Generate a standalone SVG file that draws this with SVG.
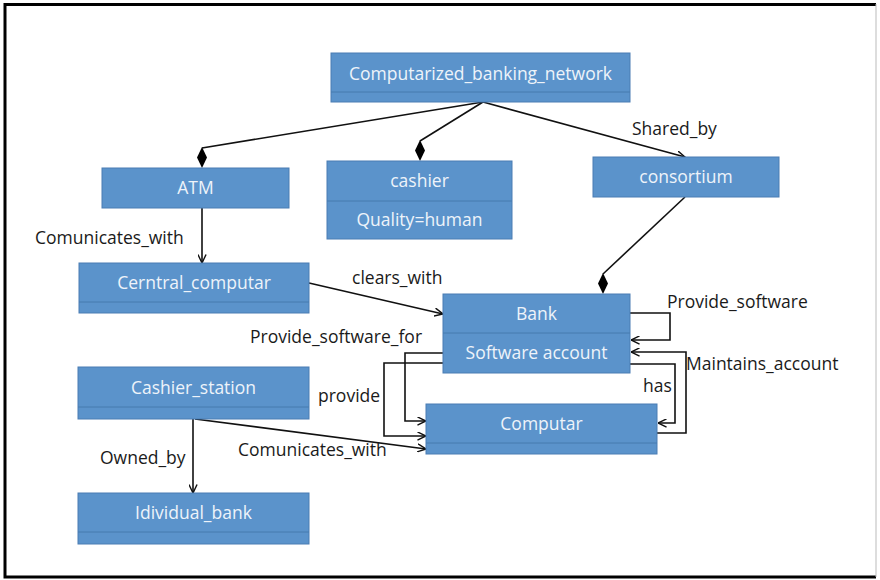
<svg xmlns="http://www.w3.org/2000/svg" width="880" height="580" viewBox="0 0 880 580">
  <style>
    .box { fill: #5b93cb; stroke: #4a7db3; stroke-width: 1; }
    .div { stroke: #477aae; stroke-width: 1; fill: none; }
    .nt { font-family: "Open Sans", "Liberation Sans", sans-serif; font-size: 17.5px; fill: #eef3fa; text-anchor: middle; }
    .lbl { font-family: "Open Sans", "Liberation Sans", sans-serif; font-size: 17.5px; fill: #1a1a1a; }
    .ln { fill: none; stroke: #111; stroke-width: 1.6; }
    .dia { fill: #000; }
  </style>
  <defs>
    <marker id="open" viewBox="0 0 10 10" refX="9.5" refY="5" markerWidth="9" markerHeight="9" markerUnits="userSpaceOnUse" orient="auto">
      <path d="M0,0.5 L9.5,5 L0,9.5" fill="none" stroke="#111" stroke-width="1.6"/>
    </marker>
  </defs>
  <rect width="880" height="580" fill="#fff"/>
  <!-- page frame -->
  <path d="M876,4.5 H5 V577 H876" fill="none" stroke="#000" stroke-width="3"/>
  <line x1="876" y1="4" x2="876" y2="577" stroke="#bbb" stroke-width="1"/>

  <g id="connectors">
    <!-- composition lines to network -->
    <line class="ln" x1="483" y1="102" x2="202" y2="148"/>
    <line class="ln" x1="483" y1="102" x2="420" y2="141"/>
    <line class="ln" x1="483" y1="102" x2="685" y2="157" marker-end="url(#open)"/>
    <line class="ln" x1="685" y1="197" x2="603" y2="274"/>
    <!-- ATM to central -->
    <line class="ln" x1="202" y1="208" x2="202" y2="263" marker-end="url(#open)"/>
    <!-- clears_with -->
    <line class="ln" x1="309" y1="283" x2="443" y2="314" marker-end="url(#open)"/>
    <!-- Provide_software self loop -->
    <polyline class="ln" points="630,313 670,313 670,340 631,340" marker-end="url(#open)"/>
    <!-- Maintains_account -->
    <polyline class="ln" points="657,433 686,433 686,352 631,352" marker-end="url(#open)"/>
    <!-- has -->
    <polyline class="ln" points="630,364 675,364 675,423 658,423" marker-end="url(#open)"/>
    <!-- Provide_software_for / provide -->
    <polyline class="ln" points="443,353 405,353 405,421 426,421" marker-end="url(#open)"/>
    <polyline class="ln" points="443,363 384,363 384,436 426,436" marker-end="url(#open)"/>
    <!-- Cashier_station links -->
    <line class="ln" x1="195" y1="419" x2="426" y2="449" marker-end="url(#open)"/>
    <line class="ln" x1="193" y1="419" x2="193" y2="493" marker-end="url(#open)"/>
    <!-- diamonds -->
    <path class="dia" d="M202,147 L207,157.5 L202,168 L197,157.5 Z"/>
    <path class="dia" d="M420,140 L425,150.5 L420,161 L415,150.5 Z"/>
    <path class="dia" d="M603,273 L608,283.5 L603,294 L598,283.5 Z"/>
    <!-- labels -->
    <text class="lbl" x="632" y="135">Shared_by</text>
    <text class="lbl" x="35" y="244">Comunicates_with</text>
    <text class="lbl" x="352" y="284">clears_with</text>
    <text class="lbl" x="667" y="308">Provide_software</text>
    <text class="lbl" x="250" y="343">Provide_software_for</text>
    <text class="lbl" x="686" y="370">Maintains_account</text>
    <text class="lbl" x="643" y="392">has</text>
    <text class="lbl" x="318" y="402">provide</text>
    <text class="lbl" x="238" y="456">Comunicates_with</text>
    <text class="lbl" x="100" y="464">Owned_by</text>
  </g>

  <g id="network">
    <rect class="box" x="331" y="53" width="299" height="49"/>
    <line class="div" x1="331" y1="92" x2="630" y2="92"/>
    <text class="nt" x="480.5" y="80">Computarized_banking_network</text>
  </g>
  <g id="atm">
    <rect class="box" x="102" y="168" width="187" height="40"/>
    <text class="nt" x="195.5" y="194">ATM</text>
  </g>
  <g id="cashier">
    <rect class="box" x="327" y="161" width="185" height="78"/>
    <line class="div" x1="327" y1="201" x2="512" y2="201"/>
    <text class="nt" x="419.5" y="187">cashier</text>
    <text class="nt" x="419.5" y="226">Quality=human</text>
  </g>
  <g id="consortium">
    <rect class="box" x="593" y="157" width="186" height="40"/>
    <text class="nt" x="686" y="183">consortium</text>
  </g>
  <g id="central">
    <rect class="box" x="79" y="263" width="230" height="50"/>
    <line class="div" x1="79" y1="302" x2="309" y2="302"/>
    <text class="nt" x="194" y="289">Cerntral_computar</text>
  </g>
  <g id="bank">
    <rect class="box" x="443" y="294" width="187" height="79"/>
    <line class="div" x1="443" y1="333" x2="630" y2="333"/>
    <text class="nt" x="536.5" y="320">Bank</text>
    <text class="nt" x="536.5" y="359">Software account</text>
  </g>
  <g id="cashier_station">
    <rect class="box" x="78" y="367" width="231" height="52"/>
    <line class="div" x1="78" y1="407" x2="309" y2="407"/>
    <text class="nt" x="193.5" y="394">Cashier_station</text>
  </g>
  <g id="computar">
    <rect class="box" x="426" y="404" width="231" height="50"/>
    <line class="div" x1="426" y1="443" x2="657" y2="443"/>
    <text class="nt" x="541.5" y="430">Computar</text>
  </g>
  <g id="individual_bank">
    <rect class="box" x="78" y="493" width="231" height="51"/>
    <line class="div" x1="78" y1="532" x2="309" y2="532"/>
    <text class="nt" x="193.5" y="519">Idividual_bank</text>
  </g>
</svg>
